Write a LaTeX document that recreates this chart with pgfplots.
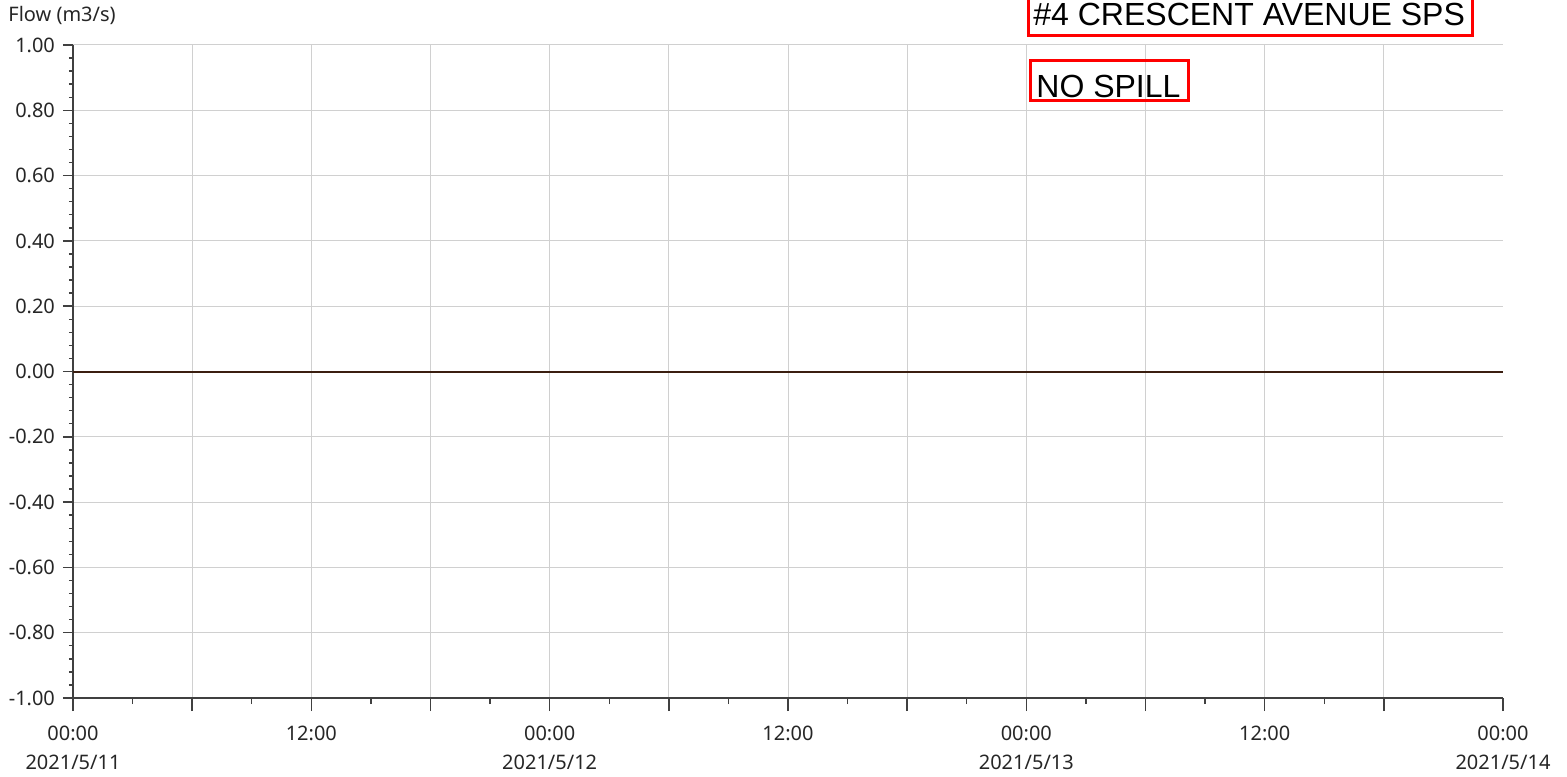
\documentclass[border=0pt]{standalone}
\usepackage{fontspec}
\setmainfont{Noto Sans}
\newfontfamily\arialfont{Liberation Sans}
\usepackage{pgfplots}
\pgfplotsset{compat=1.18}
\definecolor{axisgray}{HTML}{404040}
\definecolor{gridgray}{HTML}{D0D0D0}
\definecolor{flowline}{HTML}{3B1E10}
\definecolor{boxred}{HTML}{FF0000}
\begin{document}
\begin{tikzpicture}
\useasboundingbox (-36.5pt,-39pt) rectangle (747pt,349pt);
\begin{axis}[
  at={(0,0)}, anchor=south west,
  scale only axis, width=715pt, height=326.5pt,
  xmin=0, xmax=3, ymin=-1, ymax=1,
  axis x line*=bottom, axis y line*=left,
  axis line style={draw=axisgray, line width=0.9pt, -},
  tick align=outside,
  ytick={-1,-0.8,-0.6,-0.4,-0.2,0,0.2,0.4,0.6,0.8,1},
  minor y tick num=4,
  xtick={0,0.25,0.5,0.75,1,1.25,1.5,1.75,2,2.25,2.5,2.75},
  xticklabels={{00:00\\2021/5/11},,{12:00},,{00:00\\2021/5/12},,{12:00},,{00:00\\2021/5/13},,{12:00},},
  minor x tick num=1,
  extra x ticks={3},
  extra x tick labels={{00:00\\2021/5/14}},
  extra x tick style={grid=none},
  xmajorgrids, ymajorgrids,
  major grid style={gridgray, line width=0.5pt},
  tick style={axisgray, line width=0.7pt},
  major tick length=5pt, minor tick length=2pt,
  xtick style={/pgfplots/major tick length=6.5pt, /pgfplots/minor tick length=3pt},
  yticklabel style={/pgf/number format/fixed, /pgf/number format/fixed zerofill, /pgf/number format/precision=2},
  /pgf/number format/assume math mode=true,
  ticklabel style={font=\fontsize{10}{14.5}\selectfont, text=black!85},
  xticklabel style={align=center, anchor=north, yshift=-5.5pt},
  yticklabel style={anchor=east, xshift=-0.5pt},
]
\addplot[flowline, line width=1pt] coordinates {(0,0) (0.25,0) (0.5,0) (0.75,0) (1,0) (1.25,0) (1.5,0) (1.75,0) (2,0) (2.25,0) (2.5,0) (2.75,0) (3,0)};
\end{axis}
\node[anchor=base west, inner sep=0pt, font=\fontsize{10}{12}\selectfont, text=black!85] at (-32.5pt,338pt) {Flow (m3/s)};
\draw[boxred, line width=1.5pt] (477.5pt,331pt) rectangle (699.5pt,350pt);
\node[anchor=base west, inner sep=0pt, font=\arialfont\fontsize{16}{18}\selectfont] at (480pt,336pt) {\#4 CRESCENT AVENUE SPS};
\draw[boxred, line width=1.5pt] (478.5pt,318.5pt) rectangle (557.5pt,298.5pt);
\node[anchor=base west, inner sep=0pt, font=\arialfont\fontsize{16}{18}\selectfont] at (481.5pt,300pt) {NO SPILL};
\end{tikzpicture}
\end{document}
